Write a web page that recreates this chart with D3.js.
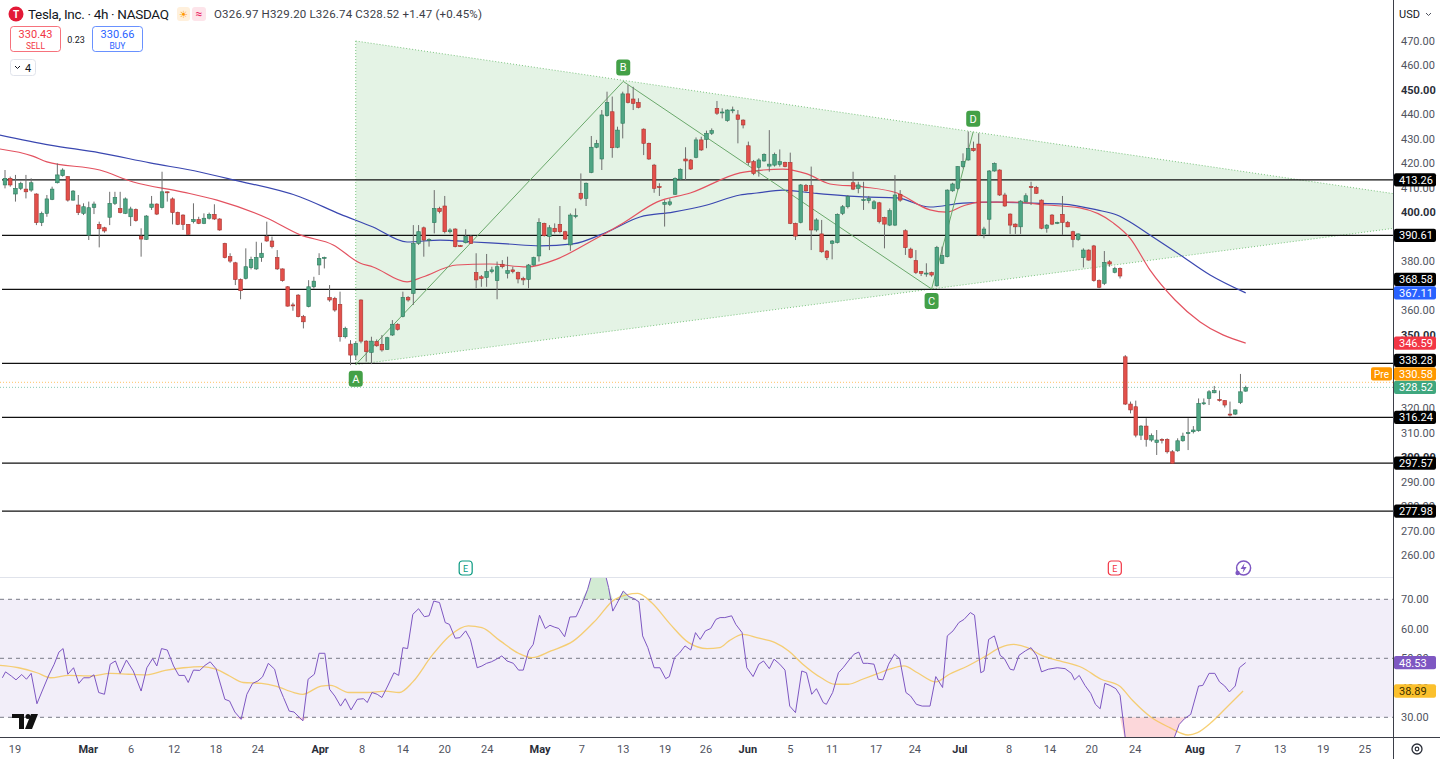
<!DOCTYPE html>
<html>
<head>
<meta charset="utf-8">
<script src="https://cdnjs.cloudflare.com/ajax/libs/d3/7.8.5/d3.min.js"></script>
<style>
  body { margin: 0; background: #fff; overflow: hidden; }
  text { font-family: Roboto, "Noto Sans", sans-serif; }
</style>
</head>
<body>
<script>
// TSLA 4h candles, one row per bar: [open, high, low, close]
var candles = [
  [411.2,417.3,409.8,413.9],[413.9,414.6,410.5,411.2],[407.5,415.3,404.4,409.8],[409.8,412.5,409.1,411.8],
  [409.5,415.3,405.7,408.4],[409.1,413.9,408.4,412.1],[407.5,407.8,394.8,395.8],[395.8,400.3,394.4,399.6],
  [399.6,407.1,398.2,405.5],[405.3,410.5,405.0,409.5],[412.1,420.0,411.8,415.3],[415.0,418.0,414.6,417.3],
  [414.6,414.8,404.4,405.0],[405.0,409.1,404.8,408.7],[403.0,407.1,398.9,399.9],[399.6,403.7,398.9,402.3],
  [390.7,404.4,388.7,401.9],[402.0,404.4,399.3,403.4],[395.1,396.2,385.7,393.3],[393.7,394.1,391.7,392.4],
  [398.0,408.4,394.8,403.7],[403.7,408.4,403.0,406.1],[401.6,408.4,399.6,399.9],[399.6,406.1,399.3,405.5],
  [398.2,402.3,394.4,401.4],[401.2,401.6,396.2,396.6],[390.3,393.5,381.9,389.1],[389.0,398.9,388.7,398.5],
  [402.0,406.7,401.0,403.4],[403.4,403.7,398.9,399.3],[402.0,416.6,401.6,408.4],[408.4,408.5,404.4,408.0],
  [405.5,406.1,395.1,399.9],[400.0,400.3,394.8,395.1],[398.9,399.2,392.8,395.1],[395.1,395.2,390.7,391.0],
  [396.2,403.7,395.5,397.1],[397.1,398.2,395.2,395.5],[395.5,399.6,395.2,397.6],[397.6,399.9,397.1,399.2],
  [399.2,403.3,396.9,397.3],[397.3,397.6,392.5,392.8],[387.3,387.6,381.2,381.5],[381.9,383.3,379.4,380.1],
  [379.4,379.8,370.3,372.6],[372.6,373.0,364.5,368.0],[373.0,385.3,372.6,377.8],[377.4,381.9,376.7,380.8],
  [376.9,388.0,376.5,381.6],[381.5,387.6,379.8,383.3],[390.1,396.2,388.0,388.3],[388.3,390.1,385.3,386.0],
  [381.6,384.6,376.5,376.9],[376.9,377.1,371.7,372.1],[369.6,369.9,361.5,361.7],[362.2,363.1,359.8,362.0],
  [366.2,366.6,357.1,357.4],[357.4,358.1,352.6,355.3],[361.5,372.3,361.2,369.6],[369.6,373.7,368.9,371.9],
  [378.5,383.3,374.4,381.2],[381.5,381.9,377.1,381.6],[365.2,370.3,363.5,364.2],[364.9,365.5,359.4,360.1],
  [362.4,367.6,347.2,349.2],[349.2,353.3,348.5,352.6],[346.2,347.8,337.6,341.7],[341.7,347.2,339.7,346.5],
  [364.2,364.5,346.5,347.4],[347.4,347.8,339.0,343.1],[342.8,349.2,338.0,347.4],[347.2,348.1,345.1,345.5],
  [346.1,349.9,343.1,343.8],[344.0,349.2,343.8,348.8],[349.9,356.0,349.5,354.3],[354.3,354.7,351.7,352.2],
  [357.4,367.6,357.1,365.3],[365.2,365.8,363.5,364.2],[366.9,394.8,362.2,387.3],[387.3,394.8,386.7,392.1],
  [393.7,394.2,381.9,388.7],[388.7,389.4,386.0,388.9],[395.8,409.1,391.4,401.6],[401.6,402.3,399.6,400.3],
  [402.6,406.7,391.4,392.1],[392.1,393.5,391.4,392.8],[393.2,393.5,385.7,386.0],[386.4,386.7,386.0,386.2],
  [387.6,393.1,387.3,390.1],[390.1,390.7,387.1,387.3],[375.4,383.3,369.0,372.4],[373.7,374.4,369.6,373.0],
  [373.4,383.0,369.6,375.8],[375.8,377.8,375.1,376.5],[372.1,379.9,364.5,377.8],[378.8,380.5,377.1,377.8],
  [375.1,381.9,373.0,376.2],[376.5,377.8,375.1,375.8],[375.4,375.8,371.0,372.8],[373.0,373.7,370.3,372.4],
  [372.6,378.9,369.0,378.5],[378.5,381.9,378.2,381.5],[382.2,397.6,379.9,395.8],[395.5,395.8,390.1,390.5],
  [390.1,394.8,384.6,393.7],[393.5,395.5,391.4,392.1],[395.1,402.6,391.4,392.1],[392.1,392.5,388.7,389.1],
  [386.7,399.6,384.3,398.9],[398.5,401.6,397.6,398.7],[407.8,415.9,405.0,405.7],[405.7,412.2,402.6,411.9],
  [416.3,431.2,416.0,426.6],[426.6,429.6,426.2,428.2],[421.8,441.8,417.3,439.8],[439.5,449.3,439.1,444.9],
  [441.1,447.3,422.3,426.4],[426.6,435.0,426.2,433.6],[436.4,449.3,430.2,448.4],[448.4,452.0,444.5,444.9],
  [446.3,451.3,441.8,444.5],[444.9,446.6,442.5,442.9],[434.0,434.3,423.4,428.2],[428.2,428.5,421.4,421.8],
  [419.3,419.8,408.0,409.8],[410.5,411.9,406.7,410.3],[403.3,405.0,394.2,404.1],[403.3,405.7,402.6,404.3],
  [407.4,414.3,407.1,413.9],[413.6,418.0,413.2,417.6],[421.8,426.6,413.2,421.0],[421.4,421.8,417.3,417.7],
  [422.5,430.6,422.1,429.6],[429.6,430.9,425.1,425.5],[429.8,433.4,426.2,432.3],[432.3,434.3,431.6,433.4],
  [442.5,445.5,439.8,440.5],[440.9,442.5,438.4,441.0],[437.5,442.1,437.0,441.8],[441.8,443.2,440.5,441.9],
  [439.8,441.8,428.2,438.0],[437.7,438.0,434.3,435.7],[427.2,428.9,419.3,420.4],[420.7,421.4,415.2,415.9],
  [418.4,422.1,414.6,421.4],[421.0,424.1,420.7,423.7],[418.9,433.6,416.6,419.7],[419.3,424.4,418.7,423.7],
  [419.6,425.7,418.7,420.7],[420.4,420.7,418.4,418.7],[420.4,424.4,395.2,395.5],[395.5,395.8,388.7,390.3],
  [395.9,411.6,395.5,411.2],[410.9,411.6,408.4,408.8],[410.9,418.7,384.6,392.8],[392.8,397.6,392.1,396.9],
  [391.2,396.9,383.5,383.9],[384.2,384.6,380.5,381.5],[387.3,388.7,380.8,388.3],[387.7,399.6,387.3,399.2],
  [399.6,403.0,398.9,402.3],[402.3,407.1,401.6,406.4],[412.1,416.6,409.1,409.5],[409.8,412.5,407.8,411.2],
  [405.0,412.5,401.0,405.2],[404.8,406.7,403.7,405.7],[401.6,405.0,401.2,404.3],[403.9,404.3,395.5,396.2],
  [397.9,398.2,385.3,395.2],[394.8,401.6,394.4,400.7],[394.8,415.2,394.4,407.1],[407.4,409.1,404.3,405.0],
  [392.5,393.1,382.6,385.6],[385.0,385.6,381.2,381.6],[380.3,384.6,374.8,375.4],[375.8,376.0,374.0,375.1],
  [375.1,379.2,373.7,375.2],[375.4,375.8,373.7,374.4],[370.0,386.3,369.6,385.7],[379.2,386.0,378.9,382.3],
  [381.9,409.4,381.6,409.1],[408.8,412.1,408.4,411.6],[409.8,418.9,409.1,418.7],[418.7,424.1,418.0,420.7],
  [421.4,433.0,421.1,426.1],[426.1,428.9,424.8,425.2],[427.9,432.3,390.3,390.7],[391.2,394.1,389.4,393.2],
  [397.2,417.3,390.7,416.9],[416.9,420.4,416.6,420.0],[417.3,417.6,406.7,407.1],[407.1,408.0,402.3,402.6],
  [399.3,399.6,391.2,394.8],[395.2,395.5,391.2,394.1],[394.1,405.0,391.2,404.6],[404.3,407.8,404.1,406.8],
  [410.5,412.5,403.0,410.3],[410.2,410.8,407.5,407.8],[405.0,405.3,393.1,393.5],[393.5,395.2,391.7,394.8],
  [398.9,399.3,394.8,395.2],[395.8,396.2,395.2,395.9],[399.2,406.7,390.7,395.9],[395.9,396.5,393.9,394.1],
  [392.1,392.5,385.7,389.0],[389.0,391.4,388.4,391.2],[381.5,385.3,377.5,384.6],[384.6,384.9,380.3,380.5],
  [386.3,386.7,371.7,372.1],[372.1,372.6,369.0,369.4],[371.0,384.2,370.3,379.6],[379.8,380.5,377.8,378.9],
  [375.5,377.8,375.1,377.1],[377.1,377.5,373.0,374.0],[341.0,341.7,321.3,321.7],[321.7,322.7,317.9,319.3],
  [320.6,323.1,308.1,309.0],[309.0,313.1,307.0,312.7],[312.7,315.9,304.3,307.3],[307.0,309.7,306.3,308.8],
  [306.0,311.1,300.9,307.0],[307.3,307.7,305.6,307.2],[307.3,307.7,301.5,302.2],[302.2,302.9,297.2,297.5],
  [302.6,307.7,302.2,306.7],[306.7,310.0,306.3,308.6],[309.9,315.9,302.9,310.0],[310.4,312.7,309.7,311.1],
  [310.8,324.0,310.4,322.0],[322.0,324.0,321.3,322.2],[324.0,327.4,321.3,326.7],[326.3,329.1,326.1,327.2],
  [323.6,327.2,322.7,323.1],[323.1,323.3,320.3,321.3],[317.6,322.7,316.5,317.2],[317.6,319.5,317.2,319.3],
  [322.3,334.0,321.7,326.7],[326.97,329.20,326.74,328.52]
];

// moving averages: [bar, price]
var maRed = [
  [-1,425.9],[5.3,423.0],[8,420.6],[18.1,417.3],[24.5,412.4],[34,408.3],[40.5,405.0],[50,397.7],
  [56.4,390.8],[62.7,386.7],[67.8,379.3],[70.3,377.7],[76.8,371.6],[79.8,373.6],[86.3,378.5],
  [92.6,378.9],[99.7,377.7],[105.4,380.9],[111.7,387.9],[118.1,395.7],[124.5,404.2],[130.9,407.9],
  [140.4,416.1],[144.8,417.3],[148.6,417.7],[153.2,415.7],[157.6,411.6],[163.9,410.4],[170.4,407.9],
  [176.7,401.0],[179.9,400.1],[183,402.6],[186.2,404.2],[192.5,404.2],[199,403.0],[205.3,401.8],
  [211.7,395.7],[214.9,389.5],[218.7,376.5],[223.5,364.2],[228.3,355.2],[237,346.59]
];
var maBlue = [
  [-1,431.6],[8.6,427.5],[18.1,424.3],[27.7,420.2],[37.2,416.5],[43.6,413.3],[56.4,406.3],[64,399.3],
  [70.3,394.0],[76.8,387.9],[83.1,388.7],[89.4,387.9],[95.9,387.1],[102.2,386.3],[108.5,387.1],
  [115,392.0],[121.3,398.1],[127.6,400.1],[134.1,403.0],[140.4,407.1],[143.6,407.9],[148.6,409.1],
  [154.3,407.9],[163.9,406.3],[170.4,405.9],[176.7,402.2],[183,403.8],[189.5,404.2],[195.8,403.8],
  [202.1,403.4],[208.6,401.0],[212.4,398.9],[214.9,396.1],[218.7,390.8],[224.5,382.6],[230.2,374.4],
  [237,367.11]
];

// RSI and its moving average: [bar, value]
var rsi = [
  [-0.5,43.4],[0.1,45.4],[1.2,44.0],[2.1,42.7],[3.2,44.5],[4.1,42.9],[5,44.9],[6.1,34.6],[7.1,38.9],
  [8.3,44.0],[9.4,48.0],[10.3,52.1],[11.1,53.3],[12,44.6],[13.1,46.8],[14.1,41.5],[15,43.4],[16.1,43.4],
  [17,44.4],[17.9,38.4],[19,37.8],[20.1,48.0],[21.1,49.1],[22,44.9],[23.2,49.4],[24.5,45.7],[26,38.9],
  [27.1,46.8],[28.2,49.9],[29,47.4],[29.9,53.3],[31,52.8],[32.2,47.4],[33.2,44.2],[34.3,44.2],[35,41.8],
  [36,46.0],[37.2,45.9],[38.2,47.6],[39.2,48.8],[40.3,46.5],[42,36.1],[42.9,35.5],[43.9,31.8],[45.1,29.3],
  [46.2,37.8],[47.3,41.5],[48.3,42.3],[49.2,43.7],[50.3,48.3],[51.5,46.3],[52.4,40.1],[53.2,36.7],
  [54.3,32.1],[55.2,31.8],[56.9,28.8],[57.9,42.9],[59.1,44.6],[60,51.7],[61.1,51.7],[62,39.5],[63,37.2],
  [64.1,33.8],[65,36.3],[66.1,32.5],[67.3,36.1],[68.5,36.3],[69.2,35.0],[70.1,38.4],[71.1,37.8],
  [72,36.7],[73.1,40.6],[74.3,45.1],[75.2,44.2],[76,53.6],[76.9,53.3],[77.9,64.9],[79,66.8],[80.1,64.1],
  [81,64.4],[81.9,69.4],[83,68.9],[84.1,62.1],[84.9,61.5],[86,56.8],[86.9,57.0],[88,59.3],[88.9,56.4],
  [90.2,46.8],[91.1,47.4],[92,48.3],[92.9,48.8],[93.9,49.7],[94.9,50.8],[95.9,49.1],[97.1,48.3],
  [98.1,46.0],[99,46.0],[100,52.5],[100.9,54.7],[102.1,64.6],[103.2,60.1],[104.1,61.2],[104.9,60.6],
  [105.8,60.1],[106.9,57.3],[107.9,64.0],[109.1,64.1],[110.2,68.3],[111.3,73.4],[112.2,79.0],
  [114.6,79.0],[115.3,74.0],[116.1,66.0],[116.9,68.6],[118.1,72.8],[119.2,70.9],[120.2,70.2],
  [121.1,69.1],[121.8,57.6],[122.8,53.6],[124,46.8],[125.1,46.8],[126.2,43.1],[126.9,43.8],[127.9,50.2],
  [128.8,51.7],[129.9,54.2],[131,52.8],[131.9,58.7],[132.8,56.4],[133.8,59.3],[134.8,60.1],[135.8,63.2],
  [136.6,63.8],[137.5,63.8],[138.8,64.4],[139.6,61.5],[140.8,58.7],[141.7,46.8],[142.9,43.8],[144,48.0],
  [144.9,49.1],[146,46.5],[146.9,49.7],[148,48.0],[149,46.0],[149.9,33.8],[151,31.6],[152.2,45.7],
  [153.1,45.1],[154.1,37.8],[155,39.7],[156.3,35.0],[156.9,34.4],[158.1,38.4],[159.2,45.1],[160.1,46.8],
  [161.1,49.1],[162.2,51.4],[163.1,52.1],[163.9,48.3],[164.8,48.3],[166,48.0],[166.8,42.9],[167.7,42.7],
  [168.8,48.0],[169.9,51.4],[170.9,49.9],[172.1,38.4],[173,37.2],[174.1,34.4],[175.2,33.8],[176.7,33.8],
  [177.8,43.8],[179.1,40.1],[180,57.6],[181.1,59.3],[182.2,62.1],[183.2,63.2],[184.4,65.5],[185.2,64.6],
  [186.4,45.1],[187,45.7],[187.9,56.4],[189,57.6],[190.1,51.0],[190.9,49.9],[192,46.3],[192.7,46.0],
  [193.7,51.0],[194.9,52.5],[196,53.6],[197.1,50.8],[198,45.4],[199.3,46.3],[201,46.8],[202.5,46.5],
  [203.7,44.9],[204.3,42.7],[205.2,44.2],[206.3,40.8],[207.4,38.1],[208.3,34.4],[209.2,32.9],
  [210.1,41.5],[211.1,40.8],[212.2,39.7],[213,37.5],[214.2,20.0],[216,17.0],[218,19.0],[220,16.0],
  [222,18.0],[223.4,23.3],[224.3,27.6],[225.3,29.5],[226.5,31.0],[228,40.6],[228.8,40.8],[230,44.9],
  [231.1,44.9],[232,42.0],[233,40.6],[233.9,38.6],[235,40.6],[235.8,46.8],[237,48.53]
];
var rsiMa = [
  [-1,47.6],[2.6,46.8],[6.1,45.1],[8.7,43.4],[12.2,44.2],[16.6,44.0],[20.1,44.9],[23.6,44.6],[27.1,44.4],
  [30.6,45.9],[34.1,46.8],[37.6,47.2],[40.3,46.3],[42.9,44.0],[45.5,41.8],[49,41.5],[51.7,40.6],
  [55.2,38.4],[56.9,37.8],[60.4,40.6],[62.2,40.8],[65.7,38.4],[69.2,38.4],[72.7,38.9],[75.3,38.4],
  [77.9,42.0],[81.5,50.8],[84.9,57.6],[88.5,61.0],[91.1,60.4],[94.6,55.9],[98.1,51.7],[100.7,50.2],
  [104.3,52.5],[108.6,55.9],[113,63.2],[116.5,70.0],[120.9,72.0],[123.5,68.9],[127.1,61.5],[130.6,55.3],
  [134.1,53.3],[136.5,53.6],[138.3,55.9],[141,58.1],[143.6,57.0],[147.1,55.3],[149.7,52.5],[152.4,48.0],
  [155.9,43.4],[158.5,41.2],[161.1,41.2],[163.8,42.9],[166.4,44.6],[169,46.3],[171.7,47.4],[174.3,45.1],
  [177.8,42.0],[180.4,44.6],[183.9,47.4],[187.4,50.8],[190.1,53.6],[192.7,54.7],[195.3,53.6],[198,51.0],
  [201.5,49.1],[205.8,46.8],[209.4,42.9],[212.9,40.6],[215.5,35.5],[219,29.9],[222.5,26.5],[226,24.0],
  [227.8,24.8],[230.4,28.2],[233,32.7],[236.5,38.89]
];

// horizontal levels drawn on the chart
var levels = [413.26, 390.61, 368.58, 338.28, 316.24, 297.57, 277.98];

// ABCD pattern points [bar, price]
var patternNames = ['A', 'B', 'C', 'D'];
var patternPts = [[67, 337.8], [118.1, 453.5], [177, 368.7], [184.95, 432.9]];
var triangleTop = [67, 470];

// x axis
var tickBars = [1.9,15.9,24.1,32.3,40.3,48.3,60.2,68.2,76,84,92.1,102.2,110.2,118.1,126.1,133.9,
  141.9,150,158,166.4,173.8,182.4,191.8,199.6,207.6,215.9,227.3,235.5,243.6,251.8,259.8];
var tickLabels = ['19','Mar','6','12','18','24','Apr','8','14','20','24','May','7','13','19','26',
  'Jun','5','11','17','24','Jul','8','14','20','24','Aug','7','13','19','25'];
var monthLabels = ['Mar','Apr','May','Jun','Jul','Aug'];

// price tags on the right axis
var priceTags = [
  {v: 413.26, bg: '#000'}, {v: 390.61, bg: '#000'}, {v: 368.58, bg: '#000'},
  {v: 367.11, bg: '#2962ff'}, {v: 346.59, bg: '#f23645'}, {v: 338.28, bg: '#000'},
  {v: 330.58, bg: '#ff9800', pre: true}, {v: 328.52, bg: '#3fa77f'}, {v: 316.24, bg: '#000'},
  {v: 297.57, bg: '#000'}, {v: 277.98, bg: '#000'}
];
var rsiTicks = [70, 60, 50, 40, 30];
var rsiLast = 48.53, rsiMaLast = 38.89;

var width = 1440, height = 759, axisX = 1393;

var x = d3.scaleLinear().domain([0, 265]).range([5, 5 + 265 * 5.235]);
var y = d3.scaleLinear().domain([470, 260]).range([41, 555.1]);
var yR = d3.scaleLinear().domain([70, 30]).range([599.3, 717.3]);

var svg = d3.select('body').append('svg')
  .attr('width', width)
  .attr('height', height);

var defs = svg.append('defs');
defs.append('clipPath').attr('id', 'clipPrice')
  .append('rect').attr('x', 0).attr('y', 0).attr('width', axisX).attr('height', 577);
defs.append('clipPath').attr('id', 'clipRsi')
  .append('rect').attr('x', 0).attr('y', 578).attr('width', axisX).attr('height', 159);

// ---------- price pane ----------
var pane = svg.append('g').attr('clip-path', 'url(#clipPrice)');

// triangle: top line through D, bottom line through A and C, out to the axis
var rightBar = x.invert(axisX);
var A = patternPts[0], C = patternPts[2], D = patternPts[3];
var topSlope = (D[1] - triangleTop[1]) / (D[0] - triangleTop[0]);
var lowSlope = (C[1] - A[1]) / (C[0] - A[0]);
var topEnd = [rightBar, triangleTop[1] + topSlope * (rightBar - triangleTop[0])];
var lowEnd = [rightBar, A[1] + lowSlope * (rightBar - A[0])];
var tri = [triangleTop, topEnd, lowEnd, A];

pane.append('path')
  .attr('d', 'M' + tri.map(function (p) { return x(p[0]) + ',' + y(p[1]); }).join('L') + 'Z')
  .attr('fill', '#4caf50')
  .attr('fill-opacity', 0.15)
  .attr('stroke', 'none');

[[triangleTop, topEnd], [A, lowEnd], [triangleTop, A]].forEach(function (seg) {
  pane.append('line')
    .attr('x1', x(seg[0][0])).attr('y1', y(seg[0][1]))
    .attr('x2', x(seg[1][0])).attr('y2', y(seg[1][1]))
    .attr('stroke', '#7cc47f')
    .attr('stroke-width', 1)
    .attr('stroke-dasharray', '1,2');
});

// pre-market and last price dotted lines
pane.append('line')
  .attr('x1', 0).attr('x2', axisX).attr('y1', y(330.58)).attr('y2', y(330.58))
  .attr('stroke', '#ff9800').attr('stroke-opacity', 0.6).attr('stroke-dasharray', '1,2');
pane.append('line')
  .attr('x1', 0).attr('x2', axisX).attr('y1', y(328.52)).attr('y2', y(328.52))
  .attr('stroke', '#3fa77f').attr('stroke-opacity', 0.6).attr('stroke-dasharray', '1,2');

// levels
pane.selectAll('line.level')
  .data(levels)
  .enter().append('line')
  .attr('class', 'level')
  .attr('x1', 2).attr('x2', axisX)
  .attr('y1', function (d) { return y(d); })
  .attr('y2', function (d) { return y(d); })
  .attr('stroke', '#111')
  .attr('stroke-width', 1.3);

// moving averages
var maLine = d3.line()
  .x(function (d) { return x(d[0]); })
  .y(function (d) { return y(d[1]); })
  .curve(d3.curveMonotoneX);

pane.append('path').datum(maBlue)
  .attr('d', maLine).attr('fill', 'none')
  .attr('stroke', '#3a47b0').attr('stroke-width', 1.2);
pane.append('path').datum(maRed)
  .attr('d', maLine).attr('fill', 'none')
  .attr('stroke', '#e35260').attr('stroke-width', 1.2);

// ABCD zigzag
pane.append('path').datum(patternPts)
  .attr('d', d3.line().x(function (d) { return x(d[0]); }).y(function (d) { return y(d[1]); }))
  .attr('fill', 'none')
  .attr('stroke', '#6aa86b')
  .attr('stroke-width', 1);

// candles
var upFill = '#4fa584', upStroke = '#2d7a5c',
    downFill = '#e2504b', downStroke = '#a8332f';

pane.selectAll('line.wick')
  .data(candles)
  .enter().append('line')
  .attr('class', 'wick')
  .attr('x1', function (d, i) { return x(i); })
  .attr('x2', function (d, i) { return x(i); })
  .attr('y1', function (d) { return y(d[1]); })
  .attr('y2', function (d) { return y(d[2]); })
  .attr('stroke', '#6e6e6e')
  .attr('stroke-width', 1);

pane.selectAll('rect.body')
  .data(candles)
  .enter().append('rect')
  .attr('class', 'body')
  .attr('x', function (d, i) { return x(i) - 1.8; })
  .attr('width', 3.6)
  .attr('y', function (d) { return y(Math.max(d[0], d[3])); })
  .attr('height', function (d) { return Math.max(1, Math.abs(y(d[0]) - y(d[3]))); })
  .attr('fill', function (d) { return d[3] >= d[0] ? upFill : downFill; })
  .attr('stroke', function (d) { return d[3] >= d[0] ? upStroke : downStroke; })
  .attr('stroke-width', 0.6);

// pattern point labels
var labelOffset = [14, -14, 12, -13];
var pLabels = pane.selectAll('g.plabel')
  .data(patternPts)
  .enter().append('g')
  .attr('class', 'plabel')
  .attr('transform', function (d, i) {
    return 'translate(' + x(d[0]) + ',' + (y(d[1]) + labelOffset[i]) + ')';
  });
pLabels.append('rect')
  .attr('x', -7).attr('y', -8).attr('width', 14).attr('height', 16).attr('rx', 3)
  .attr('fill', '#43a047');
pLabels.append('text')
  .attr('text-anchor', 'middle').attr('y', 4)
  .attr('fill', '#fff').attr('font-size', 11)
  .text(function (d, i) { return patternNames[i]; });

// event icons
function earningsIcon(cx, color) {
  var g = svg.append('g').attr('transform', 'translate(' + cx + ',568)');
  g.append('rect').attr('x', -6.5).attr('y', -7).attr('width', 13).attr('height', 14).attr('rx', 3)
    .attr('fill', '#fff').attr('stroke', color).attr('stroke-width', 1.2);
  g.append('text').attr('text-anchor', 'middle').attr('y', 4).attr('font-size', 9)
    .attr('fill', color).text('E');
}
earningsIcon(x(88), '#089981');
earningsIcon(x(212), '#f23645');
var ev = svg.append('g').attr('transform', 'translate(' + x(236.6) + ',568)');
ev.append('circle').attr('r', 7).attr('fill', '#fff').attr('stroke', '#7e57c2').attr('stroke-width', 1.5);
ev.append('path').attr('d', 'M1,-5 L-3,1 L0,1 L-1,5 L3,-1 L0,-1 Z').attr('fill', '#7e57c2');
ev.append('circle').attr('cx', -6).attr('cy', 5).attr('r', 2.2).attr('fill', '#7e57c2');

// ---------- RSI pane ----------
svg.append('line').attr('x1', 0).attr('x2', axisX).attr('y1', 577.5).attr('y2', 577.5)
  .attr('stroke', '#e0e3eb');

var rp = svg.append('g').attr('clip-path', 'url(#clipRsi)');
rp.append('rect')
  .attr('x', 0).attr('width', axisX)
  .attr('y', yR(70)).attr('height', yR(30) - yR(70))
  .attr('fill', '#7e57c2').attr('fill-opacity', 0.1);

var bx = function (d) { return x(d[0]); };
rp.append('path').datum(rsi)
  .attr('d', d3.area().x(bx).y0(yR(70)).y1(function (d) { return yR(Math.max(70, d[1])); }))
  .attr('fill', '#4caf50').attr('fill-opacity', 0.25);
rp.append('path').datum(rsi)
  .attr('d', d3.area().x(bx).y0(yR(30)).y1(function (d) { return yR(Math.min(30, d[1])); }))
  .attr('fill', '#f23645').attr('fill-opacity', 0.2);

rp.selectAll('line.rsig')
  .data([70, 50, 30])
  .enter().append('line')
  .attr('x1', 0).attr('x2', axisX)
  .attr('y1', function (d) { return yR(d); })
  .attr('y2', function (d) { return yR(d); })
  .attr('stroke', '#787b86')
  .attr('stroke-dasharray', '4,4')
  .attr('stroke-width', 1);

rp.append('path').datum(rsiMa)
  .attr('d', d3.line().x(bx).y(function (d) { return yR(d[1]); }).curve(d3.curveMonotoneX))
  .attr('fill', 'none').attr('stroke', '#f5c451').attr('stroke-opacity', 0.8).attr('stroke-width', 1.3);
rp.append('path').datum(rsi)
  .attr('d', d3.line().x(bx).y(function (d) { return yR(d[1]); }))
  .attr('fill', 'none').attr('stroke', '#7e57c2').attr('stroke-width', 1);

// TradingView logo
svg.append('path')
  .attr('d', 'M12,714 H24 V729 H19 V718 H12 Z M31,714 H38 L32,729 H25 Z')
  .attr('fill', '#111');
svg.append('circle').attr('cx', 28).attr('cy', 716.5).attr('r', 2.5).attr('fill', '#111');

// ---------- axes ----------
svg.append('line').attr('x1', axisX + 0.5).attr('x2', axisX + 0.5).attr('y1', 0).attr('y2', height)
  .attr('stroke', '#3b3e48').attr('stroke-width', 1);
svg.append('line').attr('x1', 0).attr('x2', width).attr('y1', 737.5).attr('y2', 737.5)
  .attr('stroke', '#3b3e48').attr('stroke-width', 1);

// price tags, stacked upward so they do not overlap
var tagH = 13.5, tagHalf = 6.7;
var sortedTags = priceTags.slice().sort(function (a, b) { return a.v - b.v; });
var prevY = Infinity;
sortedTags.forEach(function (t) {
  t.y = Math.min(y(t.v), prevY - tagH);
  prevY = t.y;
});
function underTag(py) {
  return sortedTags.some(function (t) { return py >= t.y - tagHalf && py <= t.y + tagHalf; });
}

// axis labels that the tags hide completely are left out
var yTicks = d3.range(260, 471, 10).filter(function (d) {
  return !(underTag(y(d) - 4) && underTag(y(d) + 4));
});
svg.selectAll('text.ytick')
  .data(yTicks)
  .enter().append('text')
  .attr('class', 'ytick')
  .attr('x', 1401)
  .attr('y', function (d) { return y(d) + 4; })
  .attr('font-size', 11)
  .attr('font-weight', function (d) { return d % 50 === 0 ? 700 : 400; })
  .attr('fill', function (d) { return d % 50 === 0 ? '#2a2e39' : '#50535e'; })
  .text(function (d) { return d.toFixed(2); });

svg.selectAll('text.rtick')
  .data(rsiTicks)
  .enter().append('text')
  .attr('class', 'rtick')
  .attr('x', 1401)
  .attr('y', function (d) { return yR(d) + 4; })
  .attr('font-size', 11)
  .attr('fill', '#50535e')
  .text(function (d) { return d.toFixed(2); });

svg.append('text').attr('x', 1399).attr('y', 18).attr('font-size', 11).attr('fill', '#131722').text('USD');
svg.append('path').attr('d', 'M1426,13 l2.5,2.5 l2.5,-2.5').attr('fill', 'none').attr('stroke', '#50535e');

var tags = svg.selectAll('g.tag')
  .data(sortedTags)
  .enter().append('g')
  .attr('class', 'tag')
  .attr('transform', function (d) { return 'translate(' + axisX + ',' + d.y + ')'; });
tags.append('rect')
  .attr('x', 1).attr('y', -tagHalf).attr('width', 42).attr('height', 2 * tagHalf).attr('rx', 2)
  .attr('fill', function (d) { return d.bg; });
tags.append('text')
  .attr('x', 6).attr('y', 4)
  .attr('font-size', 11).attr('fill', '#fff')
  .text(function (d) { return d.v.toFixed(2); });
var pre = tags.filter(function (d) { return d.pre; });
pre.append('rect')
  .attr('x', -22).attr('y', -tagHalf).attr('width', 21).attr('height', 2 * tagHalf).attr('rx', 2)
  .attr('fill', '#ff9800');
pre.append('text')
  .attr('x', -11.5).attr('y', 4).attr('text-anchor', 'middle')
  .attr('font-size', 10).attr('fill', '#fff').text('Pre');

[[rsiLast, '#7e57c2', '#fff'], [rsiMaLast, '#fbc02d', '#3b2f00']].forEach(function (t) {
  var g = svg.append('g').attr('transform', 'translate(' + axisX + ',' + yR(t[0]) + ')');
  g.append('rect').attr('x', 1).attr('y', -tagHalf).attr('width', 42).attr('height', 2 * tagHalf).attr('rx', 2)
    .attr('fill', t[1]);
  g.append('text').attr('x', 6).attr('y', 4).attr('font-size', 11).attr('fill', t[2])
    .text(t[0].toFixed(2));
});

svg.selectAll('text.xtick')
  .data(tickBars)
  .enter().append('text')
  .attr('class', 'xtick')
  .attr('x', function (d) { return x(d); })
  .attr('y', 753)
  .attr('text-anchor', 'middle')
  .attr('font-size', 11)
  .attr('font-weight', function (d, i) { return monthLabels.indexOf(tickLabels[i]) >= 0 ? 700 : 400; })
  .attr('fill', function (d, i) { return monthLabels.indexOf(tickLabels[i]) >= 0 ? '#2a2e39' : '#50535e'; })
  .text(function (d, i) { return tickLabels[i]; });

// settings icon
svg.append('circle').attr('cx', 1417).attr('cy', 749).attr('r', 5)
  .attr('fill', 'none').attr('stroke', '#2a2e39').attr('stroke-width', 1.3);
svg.append('circle').attr('cx', 1417).attr('cy', 749).attr('r', 1.8)
  .attr('fill', 'none').attr('stroke', '#2a2e39').attr('stroke-width', 1.2);

// ---------- header ----------
var hdr = svg.append('g');
hdr.append('circle').attr('cx', 16).attr('cy', 14).attr('r', 7.5).attr('fill', '#e31937');
hdr.append('text').attr('x', 16).attr('y', 18).attr('text-anchor', 'middle')
  .attr('font-size', 10).attr('font-weight', 700).attr('fill', '#fff').text('T');
hdr.append('text').attr('x', 28).attr('y', 19).attr('font-size', 13.5).attr('fill', '#131722')
  .attr('textLength', 141).text('Tesla, Inc. · 4h · NASDAQ');
hdr.append('rect').attr('x', 177).attr('y', 7).attr('width', 13).attr('height', 14).attr('rx', 3)
  .attr('fill', '#fff0dc');
hdr.append('text').attr('x', 183.5).attr('y', 18).attr('text-anchor', 'middle')
  .attr('font-size', 10).attr('fill', '#ff9800').text('☀');
hdr.append('rect').attr('x', 192).attr('y', 7).attr('width', 14).attr('height', 14).attr('rx', 3)
  .attr('fill', '#fde4ea');
hdr.append('text').attr('x', 199).attr('y', 18).attr('text-anchor', 'middle')
  .attr('font-size', 12).attr('fill', '#e91e63').text('≈');
hdr.append('text').attr('x', 214).attr('y', 18).attr('font-size', 11.5).attr('fill', '#3b3e48')
  .attr('textLength', 268).text('O326.97 H329.20 L326.74 C328.52 +1.47 (+0.45%)');

// sell / buy buttons
[[10, '330.43', 'SELL', '#f23645'], [92, '330.66', 'BUY', '#2962ff']].forEach(function (b) {
  hdr.append('rect').attr('x', b[0] + 0.5).attr('y', 26.5).attr('width', 50).attr('height', 25).attr('rx', 3)
    .attr('fill', '#fff').attr('stroke', b[3]).attr('stroke-opacity', 0.7);
  hdr.append('text').attr('x', b[0] + 25.5).attr('y', 37.5).attr('text-anchor', 'middle')
    .attr('font-size', 11).attr('fill', b[3]).text(b[1]);
  hdr.append('text').attr('x', b[0] + 25.5).attr('y', 48.5).attr('text-anchor', 'middle')
    .attr('font-size', 8.5).attr('fill', b[3]).text(b[2]);
});
hdr.append('text').attr('x', 76).attr('y', 43).attr('text-anchor', 'middle')
  .attr('font-size', 9).attr('fill', '#131722').text('0.23');

hdr.append('rect').attr('x', 10.5).attr('y', 59.5).attr('width', 25).attr('height', 16).attr('rx', 3)
  .attr('fill', '#fff').attr('stroke', '#e0e3eb');
hdr.append('path').attr('d', 'M15,66 l2.5,2.5 l2.5,-2.5').attr('fill', 'none').attr('stroke', '#131722');
hdr.append('text').attr('x', 25).attr('y', 72).attr('font-size', 11).attr('fill', '#131722').text('4');
</script>
</body>
</html>
